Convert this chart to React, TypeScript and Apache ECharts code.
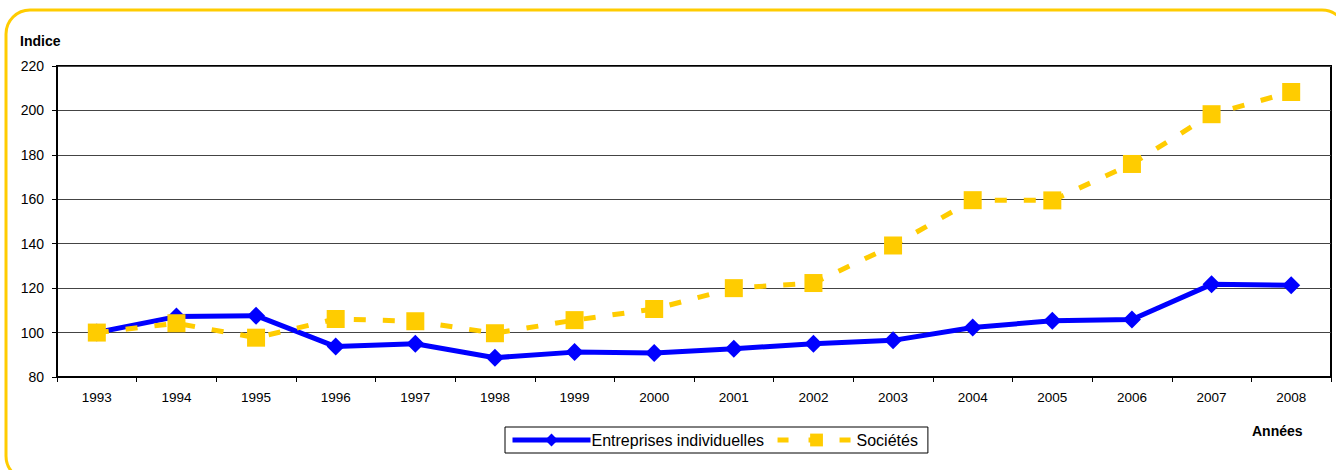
import React, { useEffect, useRef } from "react";
import * as echarts from "echarts";

const categories = ["1993", "1994", "1995", "1996", "1997", "1998", "1999", "2000", "2001", "2002", "2003", "2004", "2005", "2006", "2007", "2008"];
const entreprises = [100, 107.2, 107.6, 93.7, 95.0, 88.7, 91.2, 90.8, 92.7, 95.0, 96.5, 102.3, 105.3, 105.9, 121.7, 121.3];
const societes = [100, 104.2, 97.7, 106.1, 105.1, 99.7, 105.6, 110.6, 120.0, 122.3, 139.2, 159.6, 159.5, 175.9, 198.3, 208.3];
const seriesNames = ["Entreprises individuelles", "Sociétés"];

const FONT = "'Liberation Sans', Arial, sans-serif";

export default function App() {
  const ref = useRef<HTMLDivElement>(null);
  useEffect(() => {
    if (!ref.current) return;
    const chart = echarts.init(ref.current, null, { renderer: "svg" });
    chart.setOption({
      animation: false,
      backgroundColor: "#fff",
      textStyle: { fontFamily: FONT },
      grid: {
        left: 57,
        right: 5,
        top: 66,
        height: 311,
        show: true,
        borderColor: "#000",
        borderWidth: 2,
        backgroundColor: "transparent",
      },
      legend: {
        data: [
          { name: seriesNames[0], lineStyle: { width: 5, color: "#0000FF" } },
          { name: seriesNames[1], lineStyle: { width: 5, color: "#FFCC00", type: [11, 20] } },
        ],
        left: 505,
        top: 427,
        orient: "horizontal",
        borderColor: "#000",
        borderWidth: 1,
        padding: [5, 10, 5, 5],
        itemWidth: 78,
        itemHeight: 16,
        itemGap: 11,
        textStyle: { fontSize: 16, color: "#000", fontFamily: FONT, padding: [0, 0, 0, -4] },
      },
      xAxis: {
        type: "category",
        data: categories,
        boundaryGap: true,
        axisLine: { lineStyle: { color: "#000", width: 2 } },
        axisTick: { show: true, alignWithLabel: false, length: 5, lineStyle: { color: "#000", width: 1 } },
        axisLabel: { color: "#000", fontSize: 13.5, margin: 13, fontFamily: FONT },
        splitLine: { show: false },
      },
      yAxis: {
        type: "value",
        min: 80,
        max: 220,
        interval: 20,
        axisLine: { show: true, lineStyle: { color: "#000", width: 2 } },
        axisTick: { show: true, length: 5, lineStyle: { color: "#000", width: 1 } },
        axisLabel: { color: "#000", fontSize: 14, margin: 13, fontFamily: FONT },
        splitLine: { show: true, lineStyle: { color: "#444", width: 1 } },
      },
      series: [
        {
          name: seriesNames[0],
          type: "line",
          data: entreprises,
          symbol: "diamond",
          symbolSize: 18,
          itemStyle: { color: "#0000FF" },
          lineStyle: { color: "#0000FF", width: 5 },
          z: 2,
        },
        {
          name: seriesNames[1],
          type: "line",
          data: societes,
          symbol: "rect",
          symbolSize: 18,
          itemStyle: { color: "#FFCC00" },
          lineStyle: { color: "#FFCC00", width: 5, type: [12, 17] },
          z: 3,
        },
      ],
      graphic: [
        {
          type: "rect",
          shape: { x: 6, y: 10, width: 1340, height: 470, r: 24 },
          style: { fill: "none", stroke: "#FFCC00", lineWidth: 3 },
          silent: true,
          z: 0,
        },
        {
          type: "text",
          left: 20,
          top: 34,
          style: { text: "Indice", font: `bold 14px ${FONT}`, fill: "#000" },
        },
        {
          type: "text",
          left: 1252,
          top: 424,
          style: { text: "Années", font: `bold 14px ${FONT}`, fill: "#000" },
        },
      ],
    });
    return () => chart.dispose();
  }, []);
  return (
    <div
      ref={ref}
      style={{ position: "absolute", left: 0, top: 0, width: 1336, height: 470 }}
    />
  );
}
